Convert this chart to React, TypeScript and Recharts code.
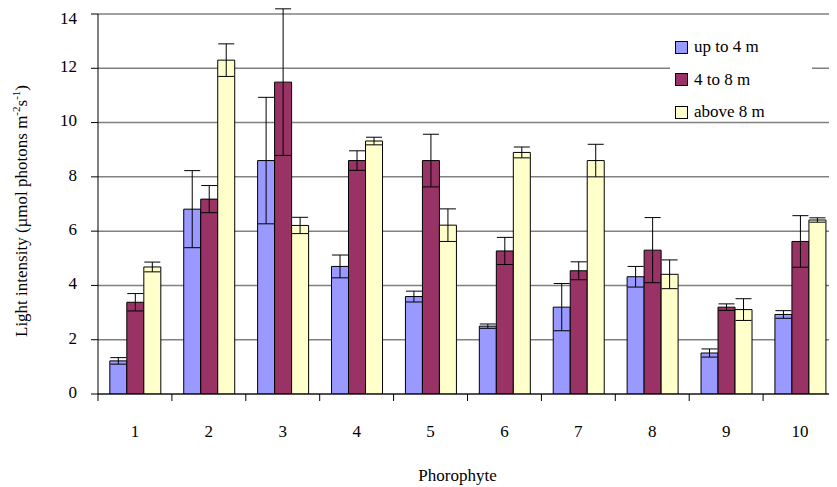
import React from 'react';
import {
  BarChart,
  Bar,
  XAxis,
  YAxis,
  CartesianGrid,
  ErrorBar,
} from 'recharts';

const categories = ['1', '2', '3', '4', '5', '6', '7', '8', '9', '10'];

const upTo4 = [1.22, 6.81, 8.6, 4.7, 3.59, 2.5, 3.2, 4.32, 1.51, 2.93];
const upTo4Err = [0.12, 1.42, 2.33, 0.42, 0.2, 0.08, 0.87, 0.38, 0.15, 0.14];

const from4to8 = [3.38, 7.18, 11.49, 8.6, 8.6, 5.27, 4.54, 5.3, 3.2, 5.62];
const from4to8Err = [0.32, 0.5, 2.7, 0.36, 0.97, 0.5, 0.33, 1.2, 0.12, 0.95];

const above8 = [4.68, 12.3, 6.21, 9.32, 6.22, 8.9, 8.6, 4.41, 3.11, 6.41];
const above8Err = [0.18, 0.6, 0.3, 0.14, 0.6, 0.2, 0.6, 0.53, 0.4, 0.08];

const yTicks = [0, 2, 4, 6, 8, 10, 12, 14];

const seriesNames = ['up to 4 m', '4 to 8 m', 'above 8 m'];
const seriesColors = ['#9999ff', '#993366', '#ffffcc'];

const data = categories.map((name, i) => ({
  name,
  a: upTo4[i],
  aErr: upTo4Err[i],
  b: from4to8[i],
  bErr: from4to8Err[i],
  c: above8[i],
  cErr: above8Err[i],
}));

const W = 829;
const H = 479;
const LEFT = 90;
const FONT = '"Liberation Serif"';
const FS = 17;
const halfBand = (W - LEFT) / categories.length / 2;

const XTick = (props: any) => {
  const { x, y, payload } = props;
  return (
    <g>
      <line x1={x - halfBand} x2={x - halfBand} y1={y} y2={y + 7} stroke='#000' />
      <text
        x={x}
        y={y + 39}
        textAnchor='middle'
        dominantBaseline='middle'
        style={{ fontFamily: FONT, fontSize: FS }}
        fill='#000'
      >
        {payload.value}
      </text>
    </g>
  );
};

const YTick = (props: any) => {
  const { x, y, payload } = props;
  // keep the top label inside the svg
  const top = payload.value === yTicks[yTicks.length - 1];
  return (
    <text
      x={x}
      y={top ? y + 3 : y}
      textAnchor='end'
      dominantBaseline='middle'
      style={{ fontFamily: FONT, fontSize: FS }}
      fill='#000'
    >
      {payload.value}
    </text>
  );
};

const YLabel = (props: any) => {
  const { viewBox } = props;
  const cx = 15;
  const cy = viewBox.y + viewBox.height / 2 + 7;
  return (
    <text
      x={cx}
      y={cy}
      transform={`rotate(-90 ${cx} ${cy})`}
      textAnchor='middle'
      dominantBaseline='middle'
      style={{ fontFamily: FONT, fontSize: FS }}
      fill='#000'
    >
      Light intensity (µmol photons m
      <tspan dy={-6} style={{ fontSize: 11 }}>
        -2
      </tspan>
      <tspan dy={6}>s</tspan>
      <tspan dy={-6} style={{ fontSize: 11 }}>
        -1
      </tspan>
      <tspan dy={6}>)</tspan>
    </text>
  );
};

const XLabel = (props: any) => {
  const { viewBox } = props;
  return (
    <text
      x={viewBox.x + viewBox.width / 2 - 10}
      y={viewBox.y + 83}
      textAnchor='middle'
      dominantBaseline='middle'
      style={{ fontFamily: FONT, fontSize: FS }}
      fill='#000'
    >
      Phorophyte
    </text>
  );
};

const LegendBox = () => (
  <div
    style={{
      position: 'absolute',
      left: 662,
      top: 12,
      background: '#fff',
      width: 142,
      height: 96,
      fontFamily: FONT,
      fontSize: FS,
      paddingTop: 11,
      boxSizing: 'border-box',
    }}
  >
    {seriesNames.map((n, i) => (
      <div
        key={n}
        style={{ display: 'flex', alignItems: 'center', height: 32.5, paddingLeft: 5 }}
      >
        <span
          style={{
            width: 11,
            height: 11,
            background: seriesColors[i],
            border: '1px solid #000',
            marginRight: 6,
          }}
        />
        <span>{n}</span>
      </div>
    ))}
  </div>
);

export default function App() {
  return (
    <div style={{ width: W, height: H, position: 'relative' }}>
      <BarChart
        width={W}
        height={H}
        data={data}
        margin={{ top: 6, right: 0, bottom: 0, left: 0 }}
        barCategoryGap='16%'
        barGap={0}
        style={{ overflow: 'visible' }}
      >
        <CartesianGrid vertical={false} stroke='#808080' strokeWidth={1.5} />
        <XAxis
          dataKey='name'
          height={93}
          axisLine={{ stroke: '#000' }}
          tickLine={false}
          tickSize={0}
          tickMargin={0}
          tick={<XTick />}
          interval={0}
          label={<XLabel />}
        />
        <YAxis
          width={LEFT}
          domain={[0, 14]}
          ticks={yTicks}
          allowDataOverflow
          axisLine={{ stroke: '#000' }}
          tickLine={{ stroke: '#000' }}
          tickSize={7}
          tickMargin={14}
          tick={<YTick />}
          label={<YLabel />}
        />
        <Bar dataKey='a' name={seriesNames[0]} fill={seriesColors[0]} stroke='#000' strokeWidth={1} isAnimationActive={false}>
          <ErrorBar dataKey='aErr' width={8} stroke='#000' strokeWidth={1} direction='y' />
        </Bar>
        <Bar dataKey='b' name={seriesNames[1]} fill={seriesColors[1]} stroke='#000' strokeWidth={1} isAnimationActive={false}>
          <ErrorBar dataKey='bErr' width={8} stroke='#000' strokeWidth={1} direction='y' />
        </Bar>
        <Bar dataKey='c' name={seriesNames[2]} fill={seriesColors[2]} stroke='#000' strokeWidth={1} isAnimationActive={false}>
          <ErrorBar dataKey='cErr' width={8} stroke='#000' strokeWidth={1} direction='y' />
        </Bar>
      </BarChart>
      <LegendBox />
    </div>
  );
}
